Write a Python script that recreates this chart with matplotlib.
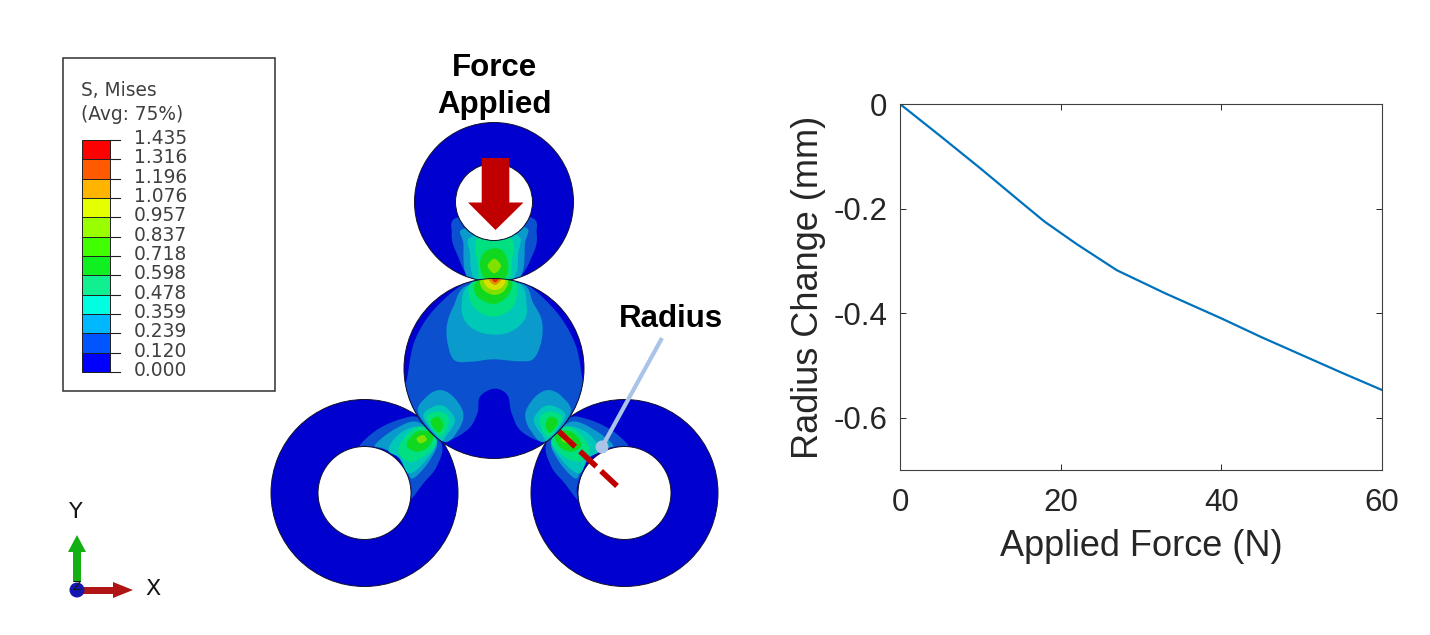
import numpy as np
import matplotlib
matplotlib.use("Agg")
import matplotlib.pyplot as plt
from matplotlib.patches import Annulus, Circle, Polygon, Rectangle

# ---- chart data
applied_force = [0, 5, 10, 15, 18, 22, 27, 33, 40, 45, 50, 55, 60]
radius_change = [0, -0.061, -0.123, -0.187, -0.225, -0.268, -0.318, -0.362, -0.41, -0.446, -0.48, -0.514, -0.547]
x_ticks = [0, 20, 40, 60]
y_ticks = [0, -0.2, -0.4, -0.6]
y_tick_labels = ["0", "-0.2", "-0.4", "-0.6"]

# ---- legend data
legend_values = ["1.435", "1.316", "1.196", "1.076", "0.957", "0.837", "0.718",
                 "0.598", "0.478", "0.359", "0.239", "0.120", "0.000"]
legend_colors = ["#ff0000", "#ff5a00", "#ffb400", "#e6ff00", "#99ff00", "#40ff00", "#10f020",
                 "#10f090", "#00ffe0", "#00b8ff", "#0055ff", "#0000ff"]

# ---- contour colours used in the model
C = ["#0000cf", "#0a50cf", "#0a9acb", "#00c8b8", "#00e080", "#10d820", "#80e000", "#d8e000", "#e09000", "#d83000"]

# ---- contour outlines: central disc top (zoom space: px = 390 + x/3, 120 + y/3)
disc_top = {
    1: [(250, 478), (140, 560), (75, 660), (50, 780), (30, 860), (70, 920), (160, 962), (232, 930), (262, 880), (270, 830),
        (313, 806), (352, 825), (365, 880), (395, 935), (470, 965), (556, 920), (596, 860), (578, 780), (555, 670), (490, 565), (380, 478)],
    2: [(235, 495), (190, 560), (170, 620), (175, 680), (195, 722), (245, 725), (310, 718), (390, 724), (432, 715), (455, 660), (455, 600), (430, 550), (392, 490)],
    3: [(240, 495), (215, 560), (230, 610), (280, 640), (350, 640), (400, 605), (410, 560), (385, 490)],
    4: [(250, 485), (238, 530), (260, 570), (310, 590), (360, 570), (380, 530), (368, 480)],
    5: [(265, 480), (258, 525), (310, 552), (355, 525), (360, 480)],
    6: [(275, 478), (280, 510), (315, 525), (345, 510), (350, 478)],
    7: [(285, 476), (290, 500), (315, 510), (340, 498), (342, 476)],
    8: [(295, 474), (315, 495), (335, 474)],
    9: [(305, 474), (315, 487), (328, 474)],
}
# top ring
ring_top = {
    1: [(210, 290), (185, 340), (200, 400), (250, 480), (375, 480), (430, 400), (440, 340), (415, 290)],
    2: [(225, 325), (220, 370), (240, 480), (382, 480), (405, 370), (400, 320)],
    3: [(245, 350), (240, 400), (258, 480), (365, 480), (385, 400), (380, 345)],
    4: [(262, 355), (265, 440), (275, 480), (352, 480), (365, 430), (362, 355)],
    5: [(280, 400), (270, 440), (290, 478), (340, 478), (355, 440), (340, 395), (312, 385)],
    6: [(293, 438), (313, 416), (333, 438), (313, 460)],
}
# disc lower-left hotspot (mirrored about x=313 for lower-right)
disc_hot = {
    2: [(85, 880), (110, 830), (150, 810), (190, 830), (220, 880), (205, 930), (160, 965)],
    3: [(100, 890), (130, 860), (165, 860), (195, 900), (170, 945), (150, 960)],
    4: [(110, 895), (140, 875), (170, 885), (175, 915), (150, 950)],
    5: [(122, 905), (145, 890), (160, 915), (145, 938)],
}
# left ring hotspot (zoom space: px = 260 + x/3, 390 + y/3; mirrored about x=702)
ring_hot = {
    1: [(300, 165), (350, 120), (420, 88), (480, 85), (545, 160), (530, 230), (490, 280), (450, 330), (453, 290), (420, 210), (370, 178), (320, 168)],
    2: [(345, 165), (400, 120), (470, 95), (530, 150), (510, 210), (460, 265), (440, 240), (410, 195), (370, 175)],
    3: [(385, 180), (420, 130), (480, 110), (530, 155), (490, 220), (445, 250), (420, 205)],
    4: [(415, 180), (445, 130), (490, 110), (530, 155), (490, 200), (445, 215)],
    5: [(440, 165), (470, 125), (520, 130), (505, 170), (470, 185)],
    6: [(470, 145), (490, 135), (500, 150), (480, 160)],
}


def smooth(pts, n=12):
    p = np.array(pts, float)
    out = []
    m = len(p)
    for i in range(m):
        p0, p1, p2, p3 = p[i - 1], p[i], p[(i + 1) % m], p[(i + 2) % m]
        for t in np.linspace(0, 1, n, endpoint=False):
            out.append(0.5 * (2 * p1 + (p2 - p0) * t + (2 * p0 - 5 * p1 + 4 * p2 - p3) * t ** 2
                              + (3 * p1 - p0 - 3 * p2 + p3) * t ** 3))
    return np.array(out)


def z2(pts):
    return [(390 + x / 3, 120 + y / 3) for x, y in pts]


def z2m(pts):
    return [(390 + (626 - x) / 3, 120 + y / 3) for x, y in pts]


def z3(pts):
    return [(260 + x / 3, 390 + y / 3) for x, y in pts]


def z3m(pts):
    return [(260 + (1404 - x) / 3, 390 + y / 3) for x, y in pts]


fig = plt.figure(figsize=(14.3, 6.35), dpi=100, facecolor="white")
px = fig.add_axes([0, 0, 1, 1])
px.set_xlim(0, 1430)
px.set_ylim(635, 0)
px.axis("off")
EDGE = "#101030"


def part(make_patch, layers, zorder):
    base = make_patch()
    base.set(facecolor=C[0], edgecolor="none", zorder=zorder)
    px.add_patch(base)
    for k, (level, pts) in enumerate(layers):
        poly = Polygon(smooth(pts), closed=True, facecolor=C[level], edgecolor="none", zorder=zorder + 0.01 * (k + 1))
        px.add_patch(poly)
        poly.set_clip_path(base)
    outline = make_patch()
    outline.set(facecolor="none", edgecolor=EDGE, linewidth=0.7, zorder=zorder + 0.5)
    px.add_patch(outline)


ring_l = lambda: Annulus((364.5, 493), 93.5, 47)
ring_r = lambda: Annulus((624.5, 493), 93.5, 47)
ring_t = lambda: Annulus((494, 202), 79.5, 41)
disc = lambda: Circle((494, 368.5), 90)

part(ring_l, [(k, z3(v)) for k, v in ring_hot.items()], 2)
part(ring_r, [(k, z3m(v)) for k, v in ring_hot.items()], 2)
part(ring_t, [(k, z2(v)) for k, v in ring_top.items()], 2)
disc_layers = [(1, z2(disc_top[1]))]
for k, v in disc_hot.items():
    disc_layers.append((k, z2(v)))
    disc_layers.append((k, z2m(v)))
for k, v in disc_top.items():
    if k > 1:
        disc_layers.append((k, z2(v)))
part(disc, disc_layers, 3)

# force arrow
px.add_patch(Polygon([(481.7, 158), (509.3, 158), (509.3, 202.5), (523.5, 202.5), (495.5, 230),
                      (468, 202.5), (481.7, 202.5)], closed=True, facecolor="#c00000", edgecolor="none", zorder=5))
# radius dashes and callout
px.plot([559, 617], [431.5, 486], color="#c00000", lw=4.0, dashes=(4.0, 1.2), dash_capstyle="butt", zorder=5)
px.plot([662, 602], [338, 447], color="#a9c4e6", lw=3.0, zorder=6, solid_capstyle="butt")
px.add_patch(Circle((602, 447), 6.5, facecolor="#a9c4e6", edgecolor="none", zorder=6))

bold = dict(family="Liberation Sans", fontweight="bold", fontsize=22.5, color="black", ha="center", va="center")
px.text(494, 67.5, "Force", **bold)
px.text(494, 105.5, "Applied", **bold)
px.text(671, 319, "Radius", **bold)

# legend
px.add_patch(Rectangle((62.5, 58), 212.5, 333, facecolor="white", edgecolor="#303030", lw=1.1, zorder=1))
lt = dict(family="DejaVu Sans", color="#404040", fontsize=13.4, va="center", zorder=2)
px.text(81, 91, "S, Mises", ha="left", **lt)
px.text(81, 115, "(Avg: 75%)", ha="left", **lt)
y0, step = 140.0, 19.33
for i, col in enumerate(legend_colors):
    px.add_patch(Rectangle((82, y0 + i * step), 28, step, facecolor=col, edgecolor="#202020", lw=0.7, zorder=2))
for i, lab in enumerate(legend_values):
    y = y0 + i * step
    px.plot([110, 120], [y, y], color="#202020", lw=0.8, zorder=2)
    px.text(187, y - 1.5, lab, ha="right", **lt)

# triad
px.add_patch(Polygon([(73, 582), (81, 582), (81, 552), (86, 552), (77, 535), (68, 552), (73, 552)],
                     closed=True, facecolor="#12b012", edgecolor="none", zorder=2))
px.add_patch(Polygon([(83, 587), (113, 587), (113, 582), (133, 590), (113, 598), (113, 594), (83, 594)],
                     closed=True, facecolor="#b01515", edgecolor="none", zorder=2))
px.add_patch(Circle((77, 590), 7.5, facecolor="#1515b0", edgecolor="none", zorder=3))
tr = dict(family="DejaVu Sans", color="#151515", ha="center", va="center")
px.text(76, 512, "Y", fontsize=16, **tr)
px.text(153, 589, "X", fontsize=16, **tr)
px.text(77, 587, "Z", fontsize=9, zorder=4, **tr)

# line chart
W, H = 1430, 635
ax = fig.add_axes([900 / W, 1 - 470 / H, 482 / W, 366 / H])
ax.patch.set_alpha(0)
ax.plot(applied_force, radius_change, color="#0072BD", lw=1.6, clip_on=True)
ax.set_xlim(0, 60)
ax.set_ylim(-0.7, 0)
ax.set_xticks(x_ticks)
ax.set_yticks(y_ticks)
ax.set_yticklabels(y_tick_labels)
tc = "#262626"
ax.tick_params(direction="in", top=True, right=True, length=4, width=0.7, color=tc, labelcolor=tc, labelsize=22.5, pad=9)
ax.tick_params(axis="x", pad=13)
for lab in ax.get_xticklabels() + ax.get_yticklabels():
    lab.set_family("Liberation Sans")
for s in ax.spines.values():
    s.set_color("#404040")
    s.set_linewidth(0.8)
ax.set_xlabel("Applied Force (N)", family="Liberation Sans", fontsize=26, color=tc)
ax.set_ylabel("Radius Change (mm)", family="Liberation Sans", fontsize=26, color=tc)
ax.xaxis.set_label_coords(0.5, (470 - 546) / 366, transform=ax.transAxes)
ax.xaxis.label.set_va("center")
ax.yaxis.set_label_coords((808 - 900) / 482, 0.5, transform=ax.transAxes)
ax.yaxis.label.set_va("center")

fig.savefig("out.png", dpi=100, facecolor="white")
